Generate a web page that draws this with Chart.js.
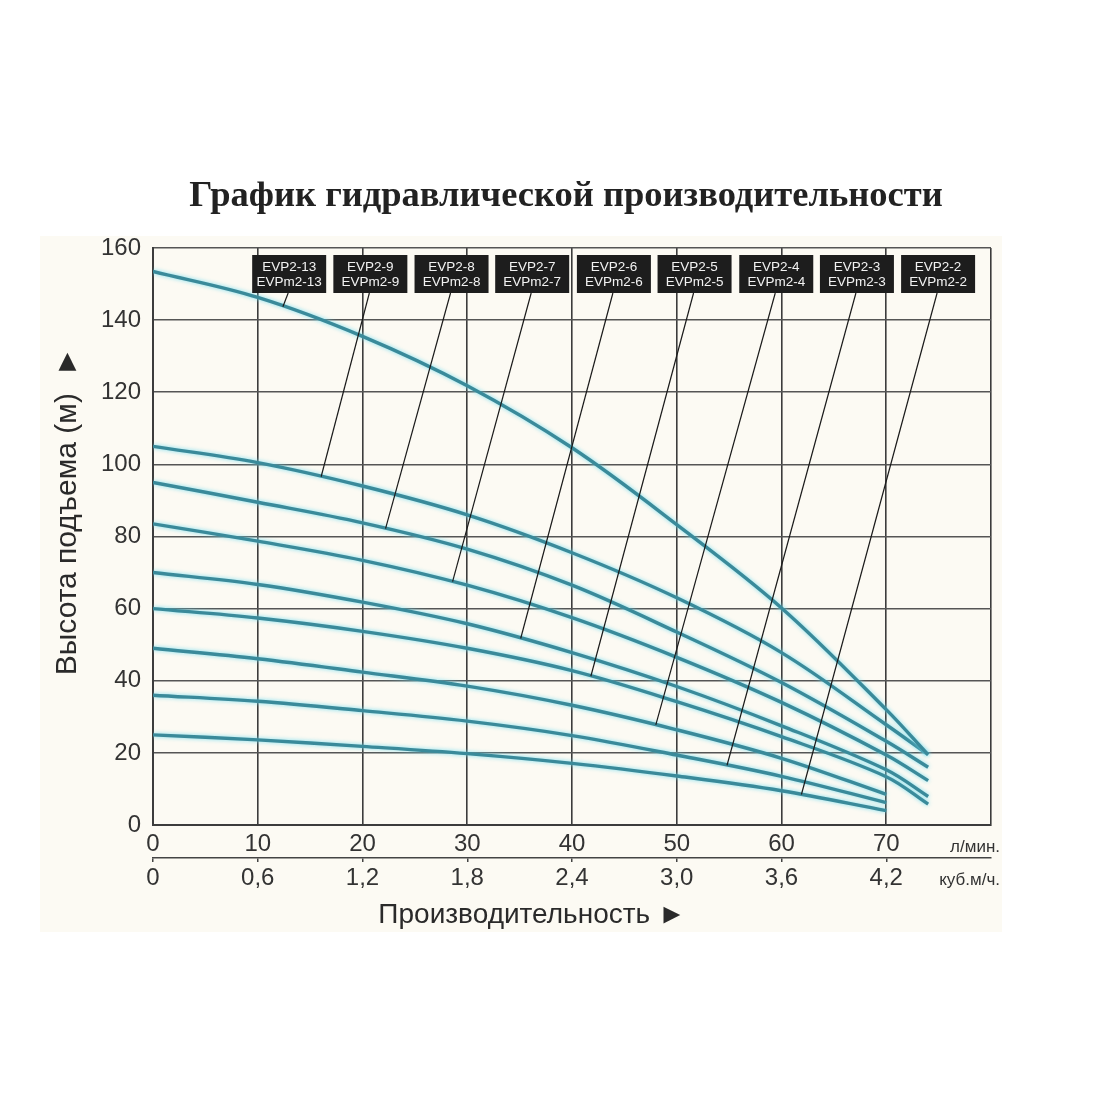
<!DOCTYPE html>
<html>
<head>
<meta charset="utf-8">
<script src="https://cdn.jsdelivr.net/npm/chart.js@4.4.1/dist/chart.umd.min.js"></script>
<style>
    body { margin: 0; background: #ffffff; }
    canvas { display: block; }
</style>
</head>
<body>
<canvas id="chart" width="1100" height="1100"></canvas>
<script>
// flow, l/min (the last point only for the longer curves)
const flowLpm = [0, 10, 20, 30, 40, 50, 60, 70, 74];

const pumpModels = ['EVP2-13', 'EVP2-9', 'EVP2-8', 'EVP2-7', 'EVP2-6', 'EVP2-5', 'EVP2-4', 'EVP2-3', 'EVP2-2'];
const monoModels = ['EVPm2-13', 'EVPm2-9', 'EVPm2-8', 'EVPm2-7', 'EVPm2-6', 'EVPm2-5', 'EVPm2-4', 'EVPm2-3', 'EVPm2-2'];

// head, m
const head13 = [153.5, 146.3, 135.5, 121.8, 104.6, 83.3, 60.2, 32, 19.5];
const head9 = [105, 100.5, 94, 86, 75.5, 63, 47.8, 27.8, 19.5];
const head8 = [95, 89.5, 83.8, 76.5, 66.5, 53.5, 39.5, 23.2, 16];
const head7 = [83.5, 78.7, 73.4, 66.5, 57.5, 46.5, 34, 19.4, 12.3];
const head6 = [70, 66.7, 61.8, 55.8, 47.8, 38.4, 27.5, 15.3, 7.9];
const head5 = [60, 57.4, 53.7, 49, 42.8, 34.2, 24.5, 13.4, 5.8];
const head4 = [49, 46.1, 42.4, 38.5, 33.2, 26.4, 18.5, 8.5];
const head3 = [36, 34.3, 31.7, 28.8, 24.8, 19.4, 13.5, 6.2];
const head2 = [25, 23.6, 21.8, 19.8, 17.1, 13.6, 9.5, 4.0];

const heads = [head13, head9, head8, head7, head6, head5, head4, head3, head2];

// where each label box sits and where its leader touches the curve (flow units)
const labelFlow = [13.0, 20.75, 28.5, 36.2, 44.0, 51.7, 59.5, 67.2, 74.95];
const leaderFlow = [12.4, 16.05, 22.2, 28.6, 35.1, 41.8, 48.0, 54.8, 61.9];

const xTicks = [0, 10, 20, 30, 40, 50, 60, 70];

const FONT = "'Liberation Sans', Arial, sans-serif";

function headAt(head, q) {
    for (let i = 0; i < head.length - 1; i++) {
        if (q >= flowLpm[i] && q <= flowLpm[i + 1]) {
            const t = (q - flowLpm[i]) / (flowLpm[i + 1] - flowLpm[i]);
            return head[i] + t * (head[i + 1] - head[i]);
        }
    }
    return head[head.length - 1];
}

const datasets = heads.map((head, i) => ({
    label: pumpModels[i],
    data: head.map((h, j) => ({ x: flowLpm[j], y: h })),
    borderColor: '#3a8a9a',
    borderWidth: 3.4,
    pointRadius: 0,
    fill: false,
    tension: 0.35
}));

const decorPlugin = {
    id: 'decor',
    beforeDraw(chart) {
        const ctx = chart.ctx;
        ctx.save();
        ctx.fillStyle = '#ffffff';
        ctx.fillRect(0, 0, chart.width, chart.height);
        ctx.fillStyle = '#fcfaf3';
        ctx.fillRect(40, 236, 962, 696);
        ctx.restore();
    },
    beforeDatasetsDraw(chart) {
        const ctx = chart.ctx;
        ctx.save();
        ctx.shadowColor = 'rgba(110, 220, 240, 0.9)';
        ctx.shadowBlur = 4;
    },
    afterDatasetsDraw(chart) {
        const ctx = chart.ctx;
        ctx.restore();
        const xs = chart.scales.x;
        const ys = chart.scales.y;
        const area = chart.chartArea;
        const boxTop = area.top + 7;
        const boxH = 38;
        const boxW = 74;

        ctx.save();
        // leader lines
        ctx.strokeStyle = '#1a1a1a';
        ctx.lineWidth = 1.2;
        heads.forEach((head, i) => {
            const cx = xs.getPixelForValue(labelFlow[i]);
            const ex = xs.getPixelForValue(leaderFlow[i]);
            const ey = ys.getPixelForValue(headAt(head, leaderFlow[i]));
            ctx.beginPath();
            ctx.moveTo(cx - 1, boxTop + boxH);
            ctx.lineTo(ex, ey);
            ctx.stroke();
        });
        // label boxes
        ctx.textAlign = 'center';
        ctx.textBaseline = 'middle';
        ctx.font = '13.5px ' + FONT;
        pumpModels.forEach((name, i) => {
            const cx = xs.getPixelForValue(labelFlow[i]);
            ctx.fillStyle = '#1d1d1d';
            ctx.fillRect(cx - boxW / 2, boxTop, boxW, boxH);
            ctx.fillStyle = '#f2f2f2';
            ctx.fillText(name, cx, boxTop + 12);
            ctx.fillText(monoModels[i], cx, boxTop + 27);
        });

        // title
        ctx.fillStyle = '#222222';
        ctx.font = "bold 36.5px 'Liberation Serif', 'Times New Roman', serif";
        ctx.fillText('График гидравлической производительности', 566, 197);

        // axis titles
        ctx.fillStyle = '#2a2a2a';
        ctx.font = '28px ' + FONT;
        ctx.fillText('Производительность ►', 532, 915);
        ctx.save();
        ctx.translate(68, 511);
        ctx.rotate(-Math.PI / 2);
        ctx.font = '30px ' + FONT;
        ctx.fillText('Высота подъема (м)  ►', 0, 0);
        ctx.restore();

        // units
        ctx.textAlign = 'right';
        ctx.font = '17px ' + FONT;
        ctx.fillStyle = '#333333';
        ctx.fillText('л/мин.', 1000, 847);
        ctx.fillText('куб.м/ч.', 1000, 880);
        ctx.restore();
    }
};

new Chart(document.getElementById('chart').getContext('2d'), {
    type: 'line',
    data: { datasets: datasets },
    options: {
        responsive: false,
        animation: false,
        devicePixelRatio: 1,
        layout: { padding: { top: 248, right: 109, bottom: 197, left: 0 } },
        plugins: {
            legend: { display: false },
            tooltip: { enabled: false }
        },
        scales: {
            x: {
                type: 'linear',
                position: 'bottom',
                min: 0,
                max: 80,
                weight: 0,
                afterFit: scale => { scale.height = 33; },
                afterBuildTicks: scale => { scale.ticks = xTicks.concat([80]).map(v => ({ value: v })); },
                ticks: {
                    font: { size: 24, family: FONT },
                    color: '#333333',
                    padding: 5,
                    maxRotation: 0,
                    callback: v => (v === 80 ? '' : String(v))
                },
                grid: { color: '#3c3c3c', lineWidth: 1.6, drawTicks: false },
                border: { color: '#3c3c3c', width: 2 }
            },
            x2: {
                type: 'linear',
                position: 'bottom',
                min: 0,
                max: 80,
                weight: 1,
                afterFit: scale => { scale.height = 45; },
                afterBuildTicks: scale => { scale.ticks = xTicks.map(v => ({ value: v })); },
                ticks: {
                    font: { size: 24, family: FONT },
                    color: '#333333',
                    padding: 2,
                    maxRotation: 0,
                    callback: v => (v === 0 ? '0' : (v * 0.06).toFixed(1).replace('.', ','))
                },
                grid: { drawOnChartArea: false, tickLength: 4, color: '#444444', lineWidth: 1.5 },
                border: { color: '#444444', width: 1.5 }
            },
            y: {
                min: 0,
                max: 160,
                afterFit: scale => { scale.width = 153; },
                ticks: {
                    stepSize: 20,
                    font: { size: 24, family: FONT },
                    color: '#333333',
                    padding: 12
                },
                grid: { color: '#555555', lineWidth: 1.6, drawTicks: false },
                border: { color: '#3c3c3c', width: 2 }
            }
        }
    },
    plugins: [decorPlugin]
});
</script>
</body>
</html>
